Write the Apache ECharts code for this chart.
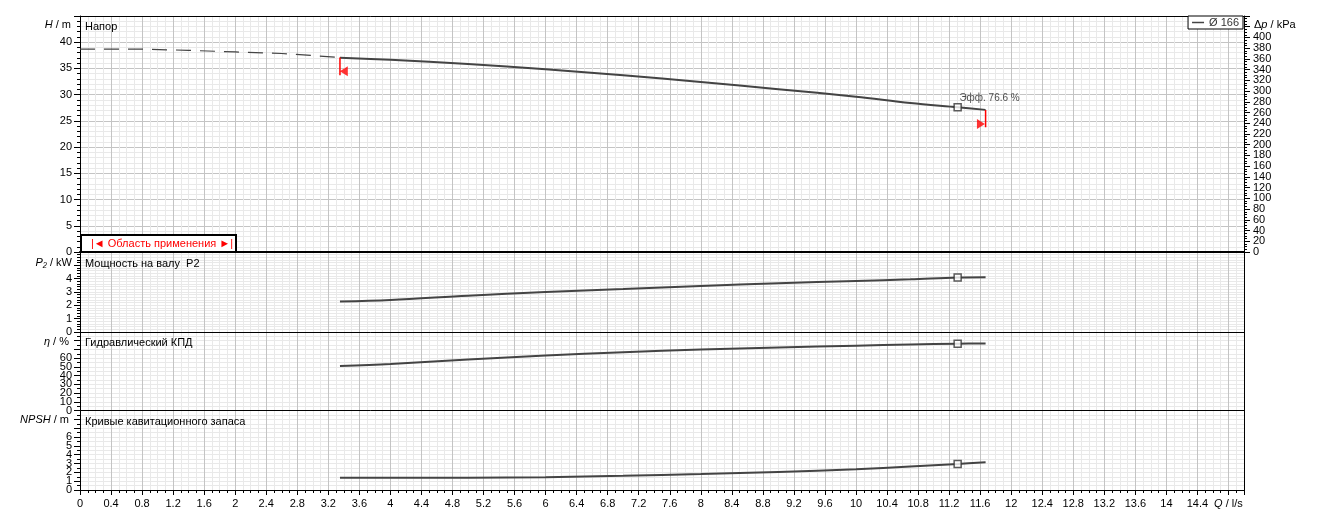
<!DOCTYPE html>
<html><head><meta charset="utf-8">
<script src="https://cdn.jsdelivr.net/npm/echarts@6/dist/echarts.min.js"></script>
<style>html,body{margin:0;padding:0;background:#fff}#c{width:1323px;height:522px}</style>
</head><body><div id="c"></div>
<script>
// ---- data ----
const dashQ = [0, 0.8, 1.4, 2.0, 2.6, 3.0, 3.35];
const dashHead = [38.7, 38.68, 38.45, 38.15, 37.85, 37.45, 37.1];
const flowQ = [3.35, 4, 5, 6, 7, 8, 9, 10, 10.7, 11.31, 11.67];
const head = [37.05, 36.65, 35.85, 34.85, 33.7, 32.4, 31.05, 29.6, 28.4, 27.6, 27.1];
const power = [2.28, 2.4, 2.72, 3.0, 3.22, 3.45, 3.65, 3.83, 3.95, 4.08, 4.1];
const efficiency = [51, 53.3, 58.5, 63, 66.8, 69.8, 72.2, 74.3, 75.6, 76.6, 76.8];
const npsh = [1.38, 1.38, 1.4, 1.45, 1.6, 1.8, 2.05, 2.35, 2.65, 2.95, 3.15];
const dutyQ = 11.31;
const dutyHead = 27.6, dutyPower = 4.08, dutyEff = 76.6, dutyNpsh = 2.95;
const rangeQ = [3.35, 11.67];
const rangeTop = [37.1, 27.1];
const rangeBottom = [33.7, 23.8];
const arrowQ = [3.40, 11.61];
const arrowHead = [34.45, 24.4];
const seriesName = 'Ø 166';
const xMax = 15, xMajor = 0.4, xFine = 0.1;
const hMax = 45, hStep = 5, hLabelMax = 40;
const kpaMax = 440, kpaStep = 20, kpaLabelMax = 400;
const pMax = 6, pStep = 1, pLabelMax = 4;
const eMax = 90, eStep = 10, eLabelMax = 60;
const nMax = 9, nStep = 1, nLabelMax = 6;

const zip = (a, b) => a.map((v, i) => [v, b[i]]);
const FONT = '"Liberation Sans", Arial, sans-serif';
const GRAY = '#c4c4c4', LIGHT = '#e9e9e9';

const grids = [
  {left: 80, right: 79, top: 16, height: 236},
  {left: 80, right: 79, top: 252, height: 80},
  {left: 80, right: 79, top: 332, height: 78.5},
  {left: 80, right: 79, top: 410.5, height: 79.5}
];

function fineX(g, showTicks) {
  return {
    type: 'value', gridIndex: g, min: 0, max: xMax, interval: xFine, position: 'bottom',
    axisLine: {show: true, onZero: false, lineStyle: {color: '#000', width: g === 0 ? 2 : 1}},
    axisTick: {show: showTicks, length: 3, lineStyle: {color: '#000'}},
    axisLabel: {show: false},
    splitLine: {show: true, showMinLine: false, showMaxLine: false,
      lineStyle: {color: [LIGHT, LIGHT, LIGHT, GRAY], width: 1}}
  };
}
const xAxes = [fineX(0, false), fineX(1, false), fineX(2, false), fineX(3, true),
  {
    type: 'value', gridIndex: 3, min: 0, max: xMax, interval: xMajor, position: 'bottom',
    axisLine: {show: true, onZero: false, lineStyle: {color: '#000'}},
    axisTick: {show: true, length: 5, lineStyle: {color: '#000'}},
    splitLine: {show: false},
    axisLabel: {
      show: true, margin: 8, fontFamily: FONT, fontSize: 11, color: '#000', showMinLabel: true,
      formatter: v => {
        if (Math.abs(v - 14.8) < 1e-6) return '{i|Q} / l/s';
        if (v > 14.85) return '';
        return String(Math.round(v * 10) / 10);
      },
      rich: {i: {fontStyle: 'italic', fontFamily: FONT, fontSize: 11}}
    }
  },
  {
    type: 'value', gridIndex: 0, min: 0, max: xMax, position: 'top',
    axisLine: {show: true, onZero: false, lineStyle: {color: '#000', width: 1}},
    axisTick: {show: false}, axisLabel: {show: false}, splitLine: {show: false}
  }
];

function leftY(g, max, step, minorN, labelMax, majorColor, showMin) {
  return {
    type: 'value', gridIndex: g, min: 0, max: max, interval: step, position: 'left',
    axisLine: {show: true, onZero: false, lineStyle: {color: '#000'}},
    axisTick: {show: true, length: 6, lineStyle: {color: '#000'}},
    minorTick: {show: true, splitNumber: minorN, length: 3, lineStyle: {color: '#000'}},
    axisLabel: {show: true, margin: 8, fontFamily: FONT, fontSize: 11, color: '#000',
      showMinLabel: showMin, hideOverlap: false,
      formatter: v => (v > labelMax + 1e-6 ? '' : String(v))},
    splitLine: {show: true, showMinLine: false, showMaxLine: false, lineStyle: {color: majorColor}},
    minorSplitLine: {show: true, lineStyle: {color: LIGHT}}
  };
}
// extra axis carrying only the "0" label, so it is never dropped by overlap handling
function zeroAxis(g, max, pos, margin) {
  return {
    type: 'value', gridIndex: g, min: 0, max: max, interval: max, position: pos,
    axisLine: {show: false}, axisTick: {show: false}, splitLine: {show: false},
    axisLabel: {show: true, margin: margin, fontFamily: FONT, fontSize: 11, color: '#000',
      showMinLabel: true, formatter: v => (v === 0 ? '0' : '')}
  };
}
function rightDummy(g, max) {
  return {
    type: 'value', gridIndex: g, min: 0, max: max, position: 'right', z: 3,
    axisLine: {show: true, onZero: false, lineStyle: {color: '#000'}},
    axisTick: {show: false}, axisLabel: {show: false}, splitLine: {show: false}
  };
}
const yAxes = [
  leftY(0, hMax, hStep, 5, hLabelMax, GRAY, true),
  {
    type: 'value', gridIndex: 0, min: 0, max: kpaMax, interval: kpaStep, position: 'right', z: 3,
    axisLine: {show: true, onZero: false, lineStyle: {color: '#000'}},
    axisTick: {show: true, length: 6, lineStyle: {color: '#000'}},
    minorTick: {show: true, splitNumber: 4, length: 3, lineStyle: {color: '#000'}},
    axisLabel: {show: true, margin: 9, fontFamily: FONT, fontSize: 11, color: '#000',
      showMinLabel: false, hideOverlap: false,
      formatter: v => (v > kpaLabelMax + 1e-6 ? '' : String(v))},
    splitLine: {show: false}
  },
  leftY(1, pMax, pStep, 5, pLabelMax, LIGHT, true), rightDummy(1, pMax),
  leftY(2, eMax, eStep, 2, eLabelMax, LIGHT, false), rightDummy(2, eMax),
  leftY(3, nMax, nStep, 2, nLabelMax, LIGHT, false), rightDummy(3, nMax),
  zeroAxis(0, kpaMax, 'right', 9), zeroAxis(2, eMax, 'left', 8), zeroAxis(3, nMax, 'left', 8)
];

const CURVE = '#444';
function curve(name, xi, yi, data) {
  return {name: name, type: 'line', xAxisIndex: xi, yAxisIndex: yi, data: data, symbol: 'none',
    smooth: 0.35, lineStyle: {color: CURVE, width: 2}, itemStyle: {color: CURVE}, z: 3};
}
function duty(xi, yi, y, label) {
  const s = {type: 'scatter', xAxisIndex: xi, yAxisIndex: yi, data: [[dutyQ, y]], symbol: 'rect',
    symbolSize: 7, itemStyle: {color: '#fff', borderColor: '#333', borderWidth: 1.5}, z: 5, silent: true};
  if (label) s.label = {show: true, formatter: label, position: [6, -5], align: 'left',
    verticalAlign: 'middle', fontFamily: FONT, fontSize: 10, color: '#222'};
  return s;
}

const series = [
  curve(seriesName, 0, 0, zip(flowQ, head)),
  {type: 'line', xAxisIndex: 0, yAxisIndex: 0, data: zip(dashQ, dashHead), symbol: 'none',
    lineStyle: {color: CURVE, width: 1.2, type: [15, 9]}, z: 3},
  curve('P2', 1, 2, zip(flowQ, power)),
  curve('eta', 2, 4, zip(flowQ, efficiency)),
  curve('NPSH', 3, 6, zip(flowQ, npsh)),
  duty(0, 0, dutyHead, 'Эфф. ' + dutyEff + ' %'),
  duty(1, 2, dutyPower), duty(2, 4, dutyEff), duty(3, 6, dutyNpsh),
  {type: 'line', xAxisIndex: 0, yAxisIndex: 0, data: [[rangeQ[0], rangeTop[0]], [rangeQ[0], rangeBottom[0]]],
    symbol: 'none', lineStyle: {color: '#ff0000', width: 1.5}, z: 4},
  {type: 'line', xAxisIndex: 0, yAxisIndex: 0, data: [[rangeQ[1], rangeTop[1]], [rangeQ[1], rangeBottom[1]]],
    symbol: 'none', lineStyle: {color: '#ff0000', width: 1.5}, z: 4},
  {type: 'scatter', xAxisIndex: 0, yAxisIndex: 0, data: [[arrowQ[0], arrowHead[0]]], symbol: 'triangle',
    symbolRotate: 90, symbolSize: [10, 8], itemStyle: {color: '#ff0000'}, z: 4, silent: true},
  {type: 'scatter', xAxisIndex: 0, yAxisIndex: 0, data: [[arrowQ[1], arrowHead[1]]], symbol: 'triangle',
    symbolRotate: -90, symbolSize: [10, 8], itemStyle: {color: '#ff0000'}, z: 4, silent: true}
];

function txt(x, y, text, opts) {
  return {type: 'text', z: 10, style: Object.assign({x: x, y: y, text: text, fill: '#000',
    font: '11px ' + FONT, verticalAlign: 'middle', align: 'left'}, opts || {})};
}
const rich = {i: {fontStyle: 'italic', fontFamily: FONT, fontSize: 11, fill: '#000'}};
const graphic = [
  txt(85, 26.5, 'Напор'),
  txt(85, 264, 'Мощность на валу  P2'),
  txt(85, 343.3, 'Гидравлический КПД'),
  txt(85, 422.3, 'Кривые кавитационного запаса'),
  txt(71, 25, '{i|H} / m', {align: 'right', rich: rich}),
  txt(72, 262.7, '{i|P₂} / kW', {align: 'right', rich: rich}),
  txt(69, 341.7, '{i|η} / %', {align: 'right', rich: rich}),
  txt(69, 419.7, '{i|NPSH} / m', {align: 'right', rich: rich}),
  txt(1254, 25, 'Δ{i|p} / kPa', {rich: rich}),
  {type: 'rect', z: 10, shape: {x: 81, y: 235, width: 155, height: 17},
    style: {fill: '#fff', stroke: '#000', lineWidth: 2}},
  txt(162, 243.5, '|◄ Область применения ►|', {align: 'center', fill: '#ff0000', font: '11px ' + FONT})
];

const chart = echarts.init(document.getElementById('c'), null, {renderer: 'canvas'});
chart.setOption({
  animation: false,
  backgroundColor: '#fff',
  grid: grids,
  xAxis: xAxes,
  yAxis: yAxes,
  legend: {show: true, data: [seriesName], right: 80, top: 16, icon: 'rect', itemWidth: 12, itemHeight: 1.5,
    itemGap: 0, padding: [1, 4, 1, 4], borderColor: '#000', borderWidth: 1, backgroundColor: '#fff',
    selectedMode: false, textStyle: {fontFamily: FONT, fontSize: 11, color: '#333'}},
  series: series,
  graphic: graphic
});
</script></body></html>
